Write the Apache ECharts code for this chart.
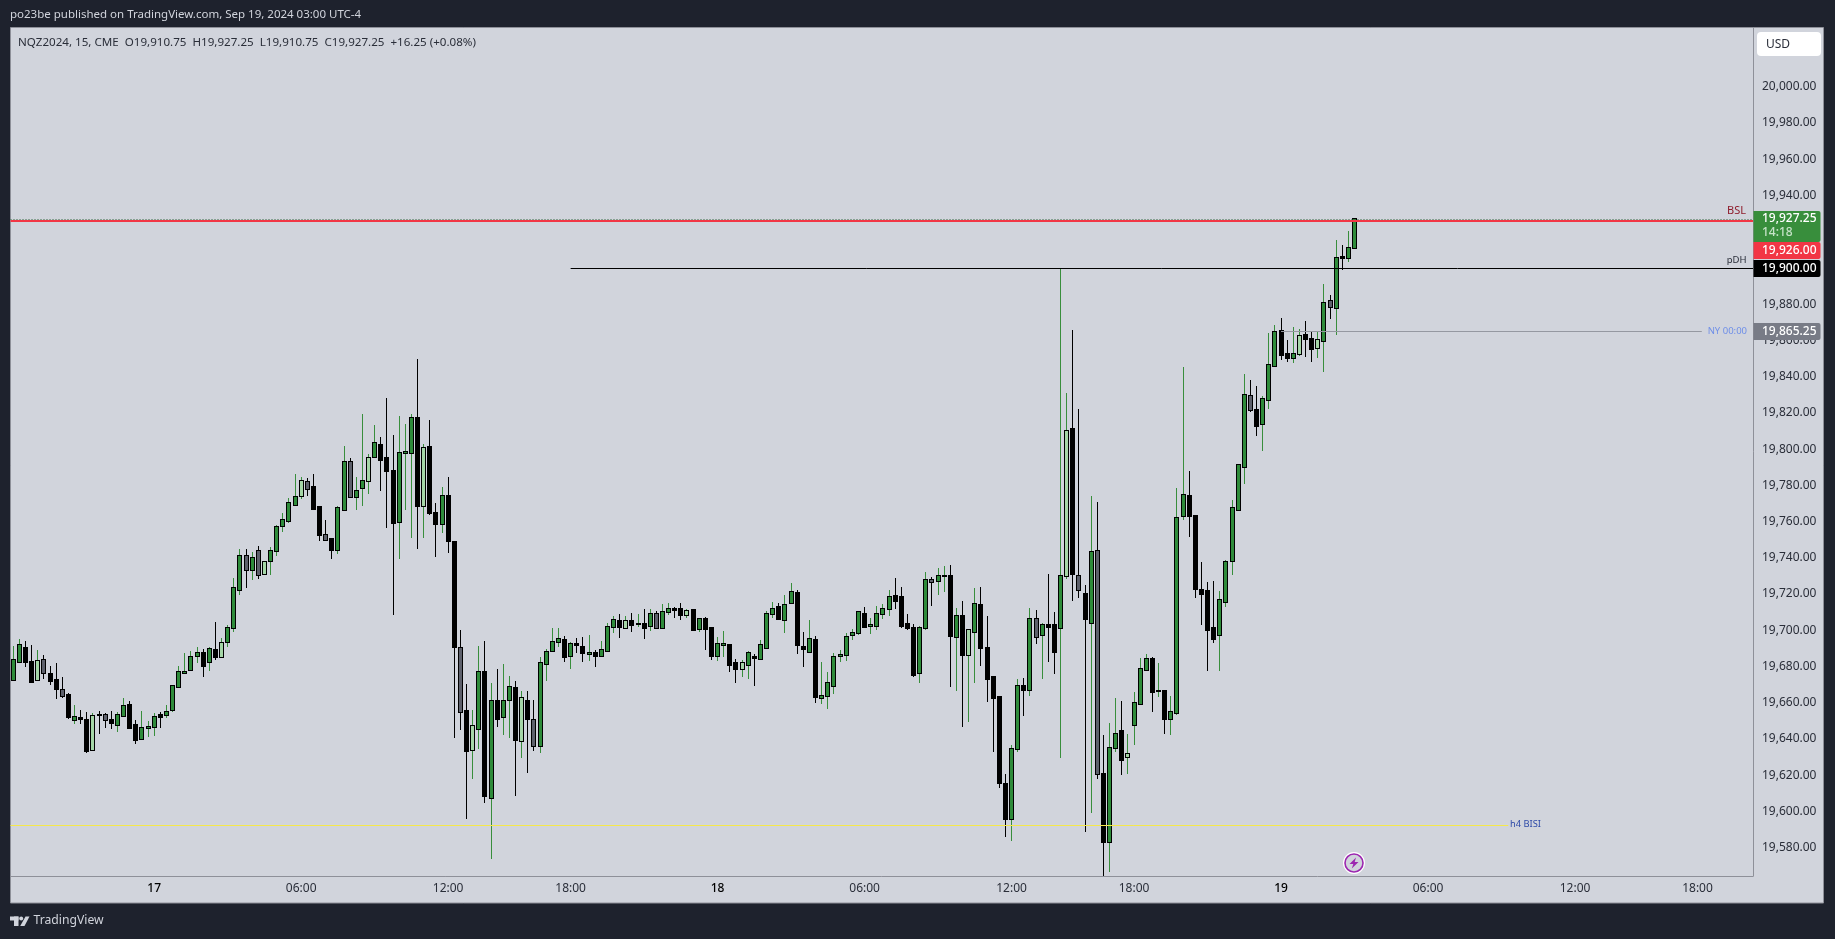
<!DOCTYPE html>
<html>
<head>
<meta charset="utf-8">
<title>NQZ2024, 15</title>
<script src="https://cdn.jsdelivr.net/npm/echarts@6/dist/echarts.min.js"></script>
<style>
html, body { margin: 0; padding: 0; background: #1e222d; }
#chart { width: 1835px; height: 939px; }
</style>
</head>
<body>
<div id="chart"></div>
<script>
var opens = [
19672.5,19682.25,19690.5,19682.25,19672.5,19683.5,19675.75,19672.5,19667,19664.5,
19650.25,19651.5,19650.75,19633.75,19653.25,19653,19650.25,19648,19652.5,19659,
19647.5,19639.75,19646.25,19646.5,19653,19653,19655.75,19668.5,19676.5,19678,
19686,19687.75,19682.25,19689,19685.5,19693.5,19701.5,19722.5,19741,19733.5,
19744,19731.25,19738,19743.5,19757.75,19760.5,19769.25,19774,19781.75,19779,
19768,19752.5,19750.25,19744.5,19766.5,19792.75,19773.75,19778.75,19782.5,19795.75,
19802.5,19795,19787.75,19760,19798,19798,19817,19768.75,19801,19765,
19758.75,19774,19748.75,19690.5,19655.25,19634,19645.5,19677.25,19607.5,19660.75,
19652.25,19661.5,19668,19639,19661.25,19650.75,19636.25,19681.5,19688.75,19693.75,
19694.5,19686,19692.25,19691,19687,19687.75,19686,19688.75,19702,19705,
19701.5,19705,19703.5,19703.25,19702.5,19708.75,19701.5,19710.25,19711.5,19711.5,
19708.5,19711,19700.75,19706.5,19701.25,19686,19692,19691.75,19681.75,19678.5,
19681,19685,19684,19690.5,19708.75,19712.75,19705.5,19715,19720.5,19691,
19688.25,19694.5,19662.5,19663.5,19669,19686,19686.25,19697.25,19698.25,19709.25,
19702.5,19702.25,19709.25,19712,19718.75,19718.25,19703.25,19701.5,19676.25,19701.5,
19728,19727,19730,19729.75,19696.5,19707.75,19686.5,19699.25,19713.75,19690.5,
19674,19663.25,19615,19596,19634.25,19669,19667,19706.25,19697.25,19703,
19702.75,19701.5,19730,19811.25,19730,19720.25,19704.25,19744,19620.5,19583,
19635.25,19644.25,19630,19648,19659.5,19678.25,19684,19666.5,19666.5,19651.25,
19654.5,19763.25,19774,19763,19722.5,19721.5,19701.5,19697.5,19715.75,19738.5,
19766.5,19790.25,19829.5,19821.5,19814,19827.25,19846,19865,19852.25,19850.5,
19852.5,19862.75,19861,19856,19859.75,19881.5,19878,19906.25,19905.5,19910.75
];
var highs = [
19691.25,19695.25,19694,19692,19689,19686.5,19680.25,19682,19674.25,19665.25,
19658.75,19656,19654.75,19654.25,19655.5,19654.25,19655.5,19655,19662.5,19661.25,
19650.5,19655.5,19649.75,19654.25,19654.75,19658.75,19669.5,19680.25,19687.75,19688.5,
19690.75,19689.75,19690.75,19704.5,19695.75,19703,19729,19745,19745,19743,
19746.5,19738.5,19746,19758,19764.75,19772.75,19786,19784.5,19784,19786,
19768.5,19760.75,19750.75,19768.5,19801.5,19795,19784.5,19819.25,19797.25,19813.25,
19806.5,19828.25,19808,19818.25,19814,19819.25,19849.75,19802.75,19816,19770.25,
19779,19784.5,19748.75,19700,19670.25,19656,19691.25,19694,19670.75,19678.5,
19681.25,19674.75,19672,19666.25,19666.5,19661.5,19685.25,19689.5,19701.25,19701.25,
19696.75,19693.5,19695.75,19696.25,19697.25,19689,19694,19704.25,19707.75,19709,
19707.75,19709.5,19709,19711.75,19711.75,19710.5,19714.5,19715,19712.75,19715,
19711.75,19711,19706.5,19707.25,19701.25,19696.25,19699.5,19691.75,19684,19683.5,
19688.5,19687,19694.5,19710.5,19715.5,19715,19719.5,19726,19722.25,19699,
19705.75,19696.75,19682.5,19677,19687.5,19689,19698.25,19700.75,19710.5,19712.75,
19706.75,19713.5,19714.5,19722.25,19728.75,19724,19709,19703.5,19702.25,19732.25,
19729.5,19734.5,19735.5,19736,19712.25,19716,19700,19723.25,19724,19708,
19674,19663.25,19620.75,19636.5,19673,19673.75,19712.25,19711.25,19704,19731,
19710,19900,19831.25,19866,19822,19725,19774,19770.75,19642.25,19648.75,
19662.75,19661,19642.75,19665.75,19684.5,19687,19685.25,19682,19666.5,19663.75,
19778.5,19845.25,19787.75,19763,19737.5,19726.5,19727,19721.5,19738.75,19772,
19791.5,19841.5,19838,19834.75,19829.25,19864,19868.5,19872.25,19860,19867.25,
19866.25,19870.5,19864.5,19864.5,19891,19885,19915.25,19912.5,19920.25,19927.25
];
var lows = [
19672.5,19682.25,19680,19671,19672.5,19673,19670,19662.25,19662.75,19651.25,
19648.5,19648.5,19632.5,19633.75,19642.5,19646.25,19645.75,19644,19652.5,19646.25,
19637,19639.75,19641.25,19641.75,19646.25,19651.75,19655,19668.5,19676.5,19678,
19682,19674.5,19677.75,19683.75,19685.5,19690.75,19699.25,19719.75,19723.5,19728,
19728.5,19730.75,19730.75,19741,19754.5,19759.5,19768.75,19772.5,19774.25,19766.5,
19749.25,19750,19739.5,19742.25,19766,19773.75,19766.5,19768.75,19775.5,19795.25,
19777,19756.5,19708.5,19739.25,19766.5,19751,19745,19751,19763.5,19740.5,
19753.75,19742.5,19640.75,19645,19596,19618,19634.5,19604.75,19574,19646.75,
19642.25,19640.75,19608.75,19629.5,19621.25,19633.5,19632.5,19672,19688,19691,
19682.5,19678.75,19687.5,19682.5,19683.25,19680,19686,19688,19698.5,19696,
19700.75,19699.25,19702,19695.25,19699.75,19701.5,19701.5,19708.5,19707,19705.75,
19707,19700.25,19699.25,19689.25,19683.75,19683.25,19685.5,19677,19671,19674.5,
19673.25,19669.5,19684,19689.75,19706.75,19706,19698.5,19715,19687,19680,
19688.25,19660,19659.5,19656.75,19665,19682.75,19683.25,19694.5,19697.5,19702,
19698,19700,19706.25,19708,19711.75,19701.25,19700,19674.25,19671,19700,
19713.5,19719.5,19721,19668.75,19666.5,19646.5,19649.5,19671,19680.25,19660.5,
19633,19613,19586,19583.5,19633,19652.75,19663.5,19692.5,19673,19682.5,
19676,19629.5,19728.25,19716.25,19717.75,19588.75,19599,19618,19564.5,19566.5,
19633,19620.25,19620.75,19636.5,19659.5,19677.5,19654.75,19663,19643,19642,
19653.25,19760.75,19751.5,19718,19703,19677.75,19693,19677.75,19713,19730.5,
19765.75,19780.75,19820.5,19807,19799,19822,19846,19849.25,19848,19847.5,
19851.25,19850.75,19848,19850.25,19842.5,19871.75,19863,19898.75,19903.25,19910.75
];
var closes = [
19683.5,19691.75,19682.25,19671.5,19683,19676.25,19671.75,19667.5,19663.5,19652,
19652,19651.25,19633.25,19652.5,19653,19650.25,19649,19653,19658.5,19646.25,
19639.5,19646,19646.5,19652,19652.25,19654.75,19669,19676.75,19677.25,19685.5,
19687.25,19680.5,19689.5,19685.5,19692.75,19701.5,19723.25,19741,19733.5,19740,
19730.75,19737.75,19744,19757,19760.75,19770,19773.5,19782.25,19778.25,19767,
19752.75,19750,19744.5,19767.25,19792.75,19773.75,19776.75,19782.25,19795,19803.25,
19794.25,19788,19759.5,19797.75,19798.25,19817,19768.75,19800.5,19765,19758.75,
19774,19749.5,19691,19655,19633.5,19647,19676.75,19608.75,19660.75,19651.25,
19660.75,19668.5,19639.5,19662.5,19651.25,19636.25,19681.75,19688.25,19693.75,19695,
19685.5,19692.25,19692,19687.5,19687.25,19686,19689,19702,19705.5,19702,
19705,19703,19703.75,19701.5,19709.25,19701.5,19710,19711.5,19711.25,19708.5,
19710.5,19700.25,19706.5,19700.75,19686,19692.25,19692.25,19681,19678.75,19681.75,
19687.25,19684.5,19691.75,19708.75,19712,19706,19713.75,19721,19692,19689.75,
19695,19663.25,19663.5,19670.75,19685.5,19686.25,19696.5,19698.25,19710,19702,
19702.75,19709.25,19712,19718.25,19716.25,19702.5,19701.5,19675.5,19701,19728,
19726.5,19730.25,19730.25,19697,19707.75,19686.5,19700,19714.25,19690.5,19673.25,
19662.75,19616,19596,19634.25,19669,19667,19706.25,19696.5,19703,19702,
19688.25,19729.75,19810,19731.25,19722,19706,19743,19620.5,19583,19635,
19643,19628.5,19632,19659.75,19678.5,19684,19666,19666.75,19651.25,19654.75,
19762.25,19774.5,19763.25,19723,19720.25,19700.25,19695.25,19717,19737.5,19767.25,
19791.5,19830,19821.75,19813,19827.5,19846.25,19864.5,19852,19850.5,19852.25,
19862.25,19861,19855.5,19860,19880.5,19878.5,19905.75,19905.5,19910.75,19927.25
];
// bars the inside-bar script repaints pale green / grey
var insideBars = [4,5,8,13,15,34,38,40,41,47,48,51,55,58,67,73,75,83,85,100,105,110,119,150,156,167,172,174,177,182,202,210,213,215];

var priceTicks = [20000,19980,19960,19940,19920,19900,19880,19860,19840,19820,19800,19780,19760,19740,19720,19700,19680,19660,19640,19620,19600,19580];
var hiddenPriceTicks = [19920,19900];
var timeTickBars = [23,47,71,91,115,139,163,183,207,231,255,275];
var timeTickLabels = ['17','06:00','12:00','18:00','18','06:00','12:00','18:00','19','06:00','12:00','18:00'];
var dayLabels = ['17','18','19'];

var xMin = -0.46, xMax = 284.06;

// level lines: from bar, to bar, price
var levelFrom = [xMin, xMin, 91, 207, xMin];
var levelTo = [xMax, xMax, xMax, 275.7, 244.1];
var levelPrices = [19927.25, 19926, 19900, 19865.25, 19592.4];
var levelColors = ['#3b6f49', '#f23645', '#000000', '#9598a1', '#f5e84a'];
var levelWidths = [1, 2, 1, 1, 1];
var levelDash = [[1, 2], null, null, null, null];

var candleData = opens.map(function (o, i) {
  return [i, o, closes[i], lows[i], highs[i]];
});
var levelData = levelPrices.map(function (p, i) {
  return [levelFrom[i], levelTo[i], p, i];
});

function renderCandle(params, api) {
  var i = api.value(0), o = api.value(1), c = api.value(2), l = api.value(3), h = api.value(4);
  var up = c >= o;
  var inside = insideBars.indexOf(i) >= 0;
  var fill = up ? (inside ? '#a5d6a7' : '#2e8b3a') : (inside ? '#5d606b' : '#000000');
  var wick = up ? '#388e3c' : '#000000';
  var px = Math.floor(api.coord([i, o])[0]);
  var yTop = Math.round(api.coord([i, Math.max(o, c)])[1]);
  var yBot = Math.round(api.coord([i, Math.min(o, c)])[1]);
  var yHigh = Math.round(api.coord([i, h])[1]);
  var yLow = Math.round(api.coord([i, l])[1]);
  var kids = [
    { type: 'rect', shape: { x: px, y: yHigh, width: 1, height: Math.max(yLow - yHigh, 1) }, style: { fill: wick } },
    { type: 'rect', shape: { x: px - 2, y: yTop - 1, width: 5, height: Math.max(yBot - yTop + 2, 2) }, style: { fill: '#000000' } }
  ];
  if (yBot - yTop > 0) {
    kids.push({ type: 'rect', shape: { x: px - 1, y: yTop, width: 3, height: yBot - yTop }, style: { fill: fill } });
  }
  return { type: 'group', children: kids };
}

function renderLevel(params, api) {
  var k = api.value(3);
  var a = api.coord([api.value(0), api.value(2)]);
  var b = api.coord([api.value(1), api.value(2)]);
  var y = levelWidths[k] === 2 ? Math.round(a[1]) : Math.round(a[1]) + 0.5;
  return {
    type: 'line',
    shape: { x1: a[0], y1: y, x2: b[0], y2: y },
    style: { stroke: levelColors[k], lineWidth: levelWidths[k], lineDash: levelDash[k] }
  };
}

function fmtPrice(v) {
  return v.toLocaleString('en-US', { minimumFractionDigits: 2, maximumFractionDigits: 2 });
}

var font = '"Noto Sans", sans-serif';
var chart = echarts.init(document.getElementById('chart'));

chart.setOption({
  animation: false,
  backgroundColor: '#1e222d',
  grid: { left: 10.5, right: 82, top: 27.5, bottom: 63 },
  xAxis: {
    type: 'value',
    min: xMin,
    max: xMax,
    splitLine: { show: false },
    axisTick: { show: false },
    axisLine: { show: true, onZero: false, lineStyle: { color: '#8e9099', width: 1 } },
    axisLabel: {
      customValues: timeTickBars,
      margin: 7,
      fontFamily: font,
      fontSize: 12,
      color: '#2a2e39',
      formatter: function (v) {
        var t = timeTickLabels[timeTickBars.indexOf(v)];
        return dayLabels.indexOf(t) >= 0 ? '{day|' + t + '}' : t;
      },
      rich: { day: { fontFamily: font, fontSize: 12, fontWeight: 500, color: '#000000' } }
    }
  },
  yAxis: {
    type: 'value',
    position: 'right',
    min: 19564.4,
    max: 20032.7,
    splitLine: { show: false },
    axisTick: { show: false },
    axisLine: { show: true, onZero: false, lineStyle: { color: '#8e9099', width: 1 } },
    axisLabel: {
      customValues: priceTicks.filter(function (v) { return hiddenPriceTicks.indexOf(v) < 0; }),
      margin: 9,
      fontFamily: font,
      fontSize: 12,
      color: '#2a2e39',
      formatter: fmtPrice
    }
  },
  series: [
    {
      type: 'custom',
      name: 'NQZ2024',
      renderItem: renderCandle,
      encode: { x: 0, y: [1, 2, 3, 4] },
      data: candleData,
      z: 3
    },
    {
      type: 'custom',
      name: 'levels',
      renderItem: renderLevel,
      encode: { x: [0, 1], y: 2 },
      data: levelData,
      z: 4
    }
  ]
});

function py(p) {
  return Math.round(chart.convertToPixel({ yAxisIndex: 0 }, p));
}

function textEl(text, x, y, color, size, align, weight) {
  return {
    type: 'text',
    z: 30,
    style: {
      text: text, x: x, y: y, fill: color,
      font: (weight || 'normal') + ' ' + size + 'px ' + font,
      align: align || 'left', verticalAlign: 'middle'
    }
  };
}

function tagEl(y, h, fill) {
  return { type: 'rect', z: 20, shape: { x: 1753.5, y: y, width: 67, height: h, r: [0, 2, 2, 0] }, style: { fill: fill } };
}

var yBsl = py(19926), yPdh = py(19900), yNy = py(19865.25), yLast = py(19927.25), yBisi = py(19592.4);

chart.setOption({
  graphic: [
    // chart panel behind everything
    { type: 'rect', z: -10, shape: { x: 10.5, y: 27.5, width: 1813, height: 875.5 }, style: { fill: '#d1d4dc', stroke: '#8e9099', lineWidth: 1 } },

    textEl('po23be published on TradingView.com, Sep 19, 2024 03:00 UTC-4', 10, 15, '#d1d4dc', 11.5),
    textEl('NQZ2024, 15, CME  O19,910.75  H19,927.25  L19,910.75  C19,927.25  +16.25 (+0.08%)', 18, 42.5, '#2a2e39', 11.6),

    { type: 'rect', z: 20, shape: { x: 1757, y: 32, width: 64, height: 24, r: 4 }, style: { fill: '#ffffff' } },
    textEl('USD', 1766, 44.5, '#2a2e39', 12),

    textEl('BSL', 1746, yBsl - 10, '#8e1c2c', 11, 'right'),
    textEl('pDH', 1746.5, yPdh - 8, '#2a2e39', 9.5, 'right'),
    { type: 'rect', z: 10, shape: { x: 1703, y: yNy - 8, width: 46, height: 16 }, style: { fill: '#d1d4dc' } },
    textEl('NY 00:00', 1747, yNy, '#6f8fe8', 9.5, 'right'),
    textEl('h4 BISI', 1510, yBisi - 1, '#2f4ba8', 9.3),

    tagEl(211, 31, '#388e3c'),
    textEl('19,927.25', 1762, yLast, '#ffffff', 12, 'left', 500),
    textEl('14:18', 1762, 233, '#c5e3c7', 12, 'left', 500),
    tagEl(242, 17, '#f23645'),
    textEl('19,926.00', 1762, 250.5, '#ffffff', 12, 'left', 500),
    tagEl(260, 17, '#000000'),
    textEl('19,900.00', 1762, yPdh + 0.5, '#ffffff', 12, 'left', 500),
    tagEl(323, 17, '#787b86'),
    textEl('19,865.25', 1762, yNy + 0.5, '#ffffff', 12, 'left', 500),

    // lightning badge
    { type: 'circle', z: 20, shape: { cx: 1354, cy: 863, r: 11 }, style: { fill: '#ffffff' } },
    { type: 'circle', z: 21, shape: { cx: 1354, cy: 863, r: 9 }, style: { fill: '#d1d4dc', stroke: '#9c27b0', lineWidth: 1.6 } },
    { type: 'polygon', z: 22, shape: { points: [[1356, 857.5], [1349.5, 864], [1353.3, 864], [1351.8, 868.5], [1358.5, 862], [1354.7, 862]] }, style: { fill: '#9c27b0' } },

    // TradingView mark
    { type: 'rect', z: 20, shape: { x: 10, y: 916.5, width: 8.5, height: 4 }, style: { fill: '#d1d4dc' } },
    { type: 'rect', z: 20, shape: { x: 14, y: 916.5, width: 4.5, height: 9.5 }, style: { fill: '#d1d4dc' } },
    { type: 'circle', z: 20, shape: { cx: 21.2, cy: 918.5, r: 2 }, style: { fill: '#d1d4dc' } },
    { type: 'polygon', z: 20, shape: { points: [[25.5, 916.5], [29.5, 916.5], [24.5, 926], [20.2, 926]] }, style: { fill: '#d1d4dc' } },
    textEl('TradingView', 33.5, 921, '#d1d4dc', 12.2)
  ]
});
</script>
</body>
</html>
